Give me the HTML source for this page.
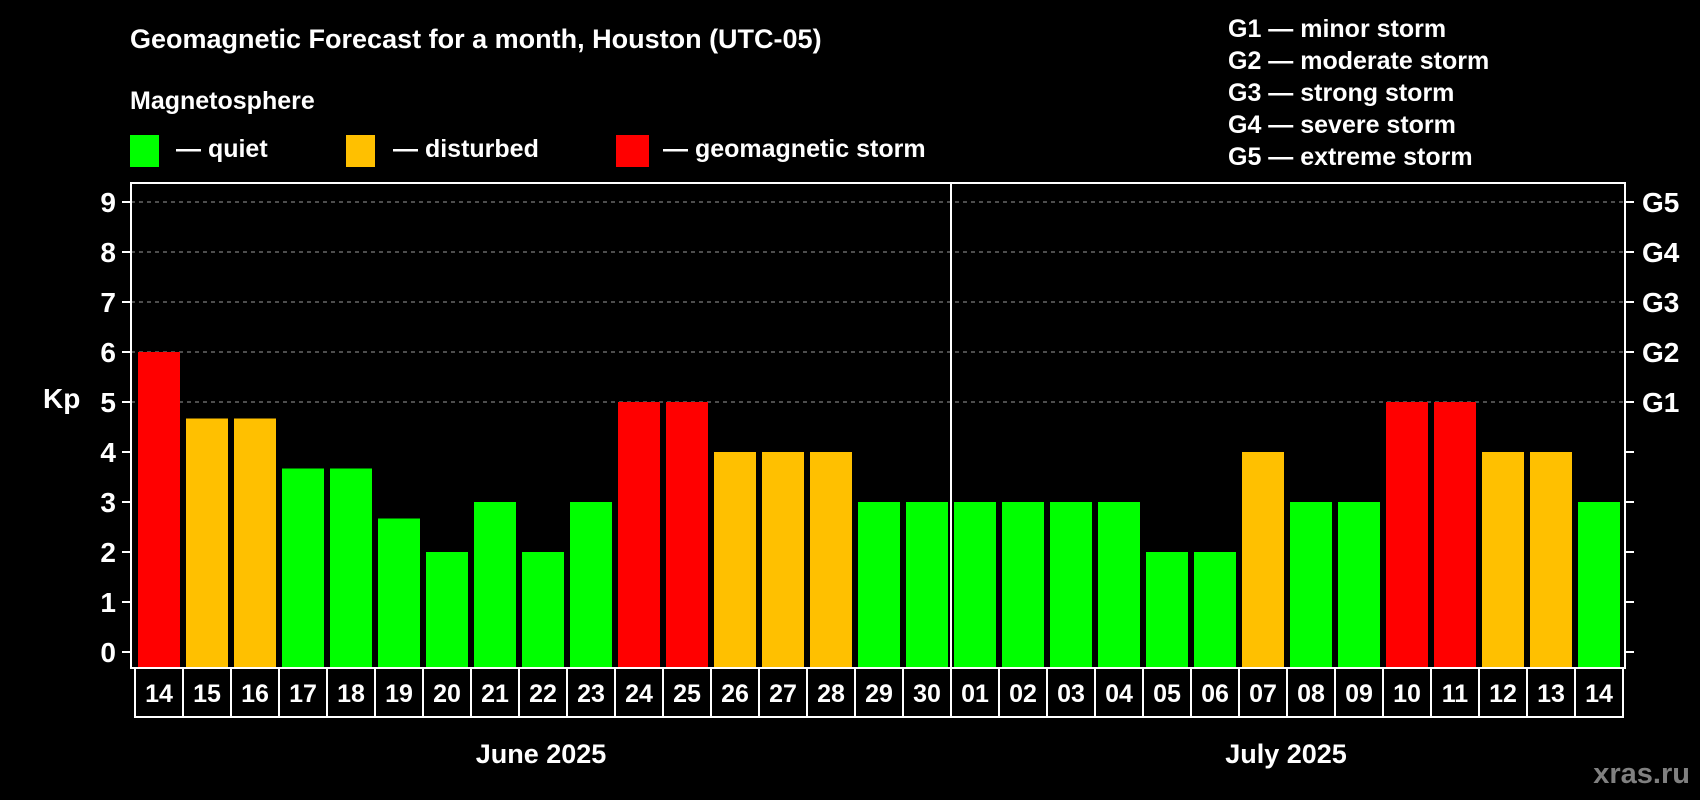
<!DOCTYPE html>
<html><head><meta charset="utf-8"><style>
html,body{margin:0;padding:0;background:#000;width:1700px;height:800px;overflow:hidden}
svg{display:block;font-family:"Liberation Sans",Arial,sans-serif;font-weight:bold}
</style></head><body>
<svg id="chart" width="1700" height="800" viewBox="0 0 1700 800">
<rect x="0" y="0" width="1700" height="800" fill="#000"/>
<text x="130" y="48" fill="#fff" font-size="27">Geomagnetic Forecast for a month, Houston (UTC-05)</text>
<text x="130" y="109" fill="#fff" font-size="25">Magnetosphere</text>
<g><rect x="130" y="135" width="29" height="32" fill="#00ff00"/><text x="176" y="157" fill="#fff" font-size="25">— quiet</text></g>
<g><rect x="346" y="135" width="29" height="32" fill="#ffc000"/><text x="393" y="157" fill="#fff" font-size="25">— disturbed</text></g>
<g><rect x="616" y="135" width="33" height="32" fill="#ff0000"/><text x="663" y="157" fill="#fff" font-size="25">— geomagnetic storm</text></g>
<g font-size="25" fill="#fff">
<text x="1228" y="37">G1 — minor storm</text>
<text x="1228" y="69">G2 — moderate storm</text>
<text x="1228" y="101">G3 — strong storm</text>
<text x="1228" y="133">G4 — severe storm</text>
<text x="1228" y="165">G5 — extreme storm</text>
</g>
<text x="43" y="408" fill="#fff" font-size="28">Kp</text>
<text x="541" y="763" fill="#fff" font-size="27" text-anchor="middle">June 2025</text>
<text x="1286" y="763" fill="#fff" font-size="27" text-anchor="middle">July 2025</text>
<text x="1690" y="783" fill="#808080" font-size="29" text-anchor="end">xras.ru</text>
<g id="grid"></g><g id="bars"></g><g id="axes"></g>
</svg>
<script>
const days = ["14","15","16","17","18","19","20","21","22","23","24","25","26","27","28","29","30","01","02","03","04","05","06","07","08","09","10","11","12","13","14"];
const kp = [6,4.67,4.67,3.67,3.67,2.67,2,3,2,3,5,5,4,4,4,3,3,3,3,3,3,2,2,4,3,3,5,5,4,4,3];
const yTicks = [0,1,2,3,4,5,6,7,8,9];
const gLabels = ["G1","G2","G3","G4","G5"];
const gLevels = [5,6,7,8,9];
const NS="http://www.w3.org/2000/svg";
const X0=135, SLOT=48, FL=131, FR=1625, FT=183, FB=668;
const y=v=>652-50*v;
const x=i=>X0+i*SLOT;
function mk(tag,attrs,parent){const e=document.createElementNS(NS,tag);for(const k in attrs)e.setAttribute(k,attrs[k]);parent.appendChild(e);return e;}
const grid=document.getElementById('grid'),bars=document.getElementById('bars'),axes=document.getElementById('axes');
gLevels.forEach(v=>{const l=mk('line',{x1:FL,x2:FR,y1:y(v),y2:y(v),stroke:'#9a9a9a','stroke-width':1,'stroke-dasharray':'4,4'},grid);

});
const col=v=>v>=5?'#ff0000':(v>=4?'#ffc000':'#00ff00');
kp.forEach((v,i)=>{const r=mk('rect',{x:x(i)+3,y:y(v),width:42,height:FB-y(v),fill:col(v)},bars);

});
const fr=mk('rect',{x:FL,y:FT,width:FR-FL,height:FB-FT,fill:'none',stroke:'#fff','stroke-width':2},axes);


const dv=mk('line',{x1:x(17),x2:x(17),y1:FT,y2:FB,stroke:'#fff','stroke-width':2},axes);


yTicks.forEach(v=>{mk('line',{x1:FL-9,x2:FL,y1:y(v),y2:y(v),stroke:'#fff','stroke-width':2},axes);
mk('line',{x1:FR,x2:FR+9,y1:y(v),y2:y(v),stroke:'#fff','stroke-width':2},axes);
const t=mk('text',{x:116,y:y(v)+10,fill:'#fff','font-size':28,'text-anchor':'end'},axes);t.textContent=v;

});
gLevels.forEach((v,i)=>{const t=mk('text',{x:1642,y:y(v)+10,fill:'#fff','font-size':28},axes);t.textContent=gLabels[i];

});
days.forEach((d,i)=>{const b=mk('rect',{x:x(i),y:FB,width:SLOT,height:49,fill:'none',stroke:'#fff','stroke-width':2},axes);


const t=mk('text',{x:x(i)+SLOT/2,y:FB+34,fill:'#fff','font-size':25,'text-anchor':'middle'},axes);t.textContent=d;

});
</script>
</body></html>
